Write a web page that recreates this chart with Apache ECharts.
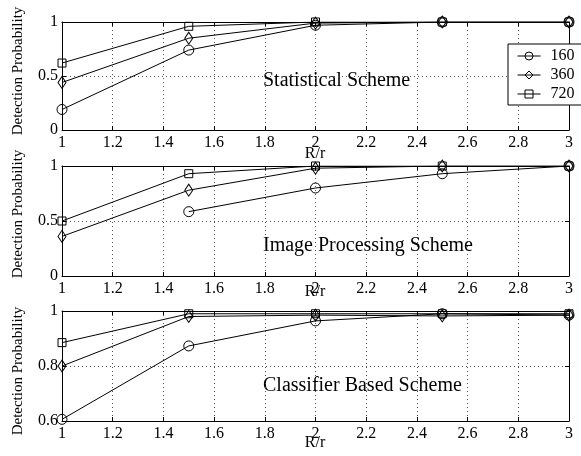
<!DOCTYPE html>
<html>
<head>
    <meta charset="UTF-8">
    <title>Detection Probability vs R/r</title>
    <script src="https://cdn.jsdelivr.net/npm/echarts@6/dist/echarts.min.js"></script>
    <style>
        html, body { margin: 0; padding: 0; background: #fff; }
        #chart { width: 581px; height: 456px; }
    </style>
</head>
<body>
<div id="chart"></div>
<script>
    // R/r values on the x axis
    var ratios = [1, 1.5, 2, 2.5, 3];
    var seriesNames = ['160', '360', '720'];
    var panelTitles = ['Statistical Scheme', 'Image Processing Scheme', 'Classifier Based Scheme'];

    // Statistical Scheme
    var stat160 = [0.19, 0.74, 0.97, 1.0, 1.0];
    var stat360 = [0.44, 0.85, 0.99, 1.0, 1.0];
    var stat720 = [0.62, 0.96, 1.0, 1.0, 1.0];

    // Image Processing Scheme (160 has no point at R/r = 1)
    var img160 = [null, 0.585, 0.80, 0.93, 1.0];
    var img360 = [0.36, 0.78, 0.98, 1.0, 1.0];
    var img720 = [0.50, 0.93, 1.0, 1.0, 1.0];

    // Classifier Based Scheme
    var cls160 = [0.606, 0.873, 0.964, 0.99, 0.985];
    var cls360 = [0.80, 0.98, 0.985, 0.982, 0.985];
    var cls720 = [0.885, 0.99, 0.99, 0.99, 0.99];

    var panels = [[stat160, stat360, stat720], [img160, img360, img720], [cls160, cls360, cls720]];
    var yRanges = [[0, 1, 0.5], [0, 1, 0.5], [0.6, 1, 0.2]];

    var font = "'Liberation Serif', 'DejaVu Serif', serif";
    var grids = [
        {left: 62, right: 12, top: 22, height: 108},
        {left: 62, right: 12, top: 166, height: 110},
        {left: 62, right: 12, top: 311, height: 110}
    ];
    var xNameCenters = [154, 292, 443];
    var yLabelCenters = [71, 214, 371];
    var titleCenters = [80, 245, 385];
    var symbols = [
        {symbol: 'circle', size: 10},
        {symbol: 'diamond', size: [8, 12]},
        {symbol: 'rect', size: 8}
    ];

    var chart = echarts.init(document.getElementById('chart'), null, {renderer: 'canvas'});

    var dotted = {show: true, lineStyle: {type: [1, 3], color: '#555', width: 1}};
    var xAxes = [], yAxes = [], series = [], graphics = [];

    grids.forEach(function (g, p) {
        xAxes.push({
            type: 'value', gridIndex: p, min: 1, max: 3, interval: 0.2, position: 'bottom',
            axisLine: {show: true, onZero: false, lineStyle: {color: '#000', width: 1}},
            axisTick: {show: true, inside: true, length: 4, lineStyle: {color: '#000'}},
            axisLabel: {fontFamily: font, fontSize: 16, color: '#000', margin: 5},
            splitLine: dotted
        });
        xAxes.push({
            type: 'value', gridIndex: p, min: 1, max: 3, interval: 0.2, position: 'top',
            axisLine: {show: true, onZero: false, lineStyle: {color: '#000', width: 1}},
            axisTick: {show: true, inside: true, length: 4, lineStyle: {color: '#000'}},
            axisLabel: {show: false}, splitLine: {show: false}
        });
        var r = yRanges[p];
        yAxes.push({
            type: 'value', gridIndex: p, min: r[0], max: r[1], interval: r[2], position: 'left',
            axisLine: {show: true, onZero: false, lineStyle: {color: '#000', width: 1}},
            axisTick: {show: true, inside: true, length: 4, lineStyle: {color: '#000'}},
            axisLabel: {fontFamily: font, fontSize: 16, color: '#000', margin: 4},
            splitLine: dotted
        });
        yAxes.push({
            type: 'value', gridIndex: p, min: r[0], max: r[1], interval: r[2], position: 'right',
            axisLine: {show: true, onZero: false, lineStyle: {color: '#000', width: 1}},
            axisTick: {show: true, inside: true, length: 4, lineStyle: {color: '#000'}},
            axisLabel: {show: false}, splitLine: {show: false}
        });

        panels[p].forEach(function (vals, k) {
            series.push({
                name: seriesNames[k],
                type: 'line',
                xAxisIndex: p * 2,
                yAxisIndex: p * 2,
                data: ratios.map(function (x, i) { return [x, vals[i]]; }),
                symbol: symbols[k].symbol,
                symbolSize: symbols[k].size,
                showAllSymbol: true,
                connectNulls: false,
                lineStyle: {color: '#000', width: 1},
                itemStyle: {color: 'rgba(255,255,255,0)', borderColor: '#000', borderWidth: 1},
                emphasis: {disabled: true},
                animation: false
            });
        });

        graphics.push({
            type: 'text', left: 263, top: titleCenters[p] - 9,
            style: {text: panelTitles[p], font: '20px ' + font, fill: '#000'}
        });
        graphics.push({
            type: 'text', x: 18, y: yLabelCenters[p], rotation: Math.PI / 2,
            style: {text: 'Detection Probability', font: '15px ' + font, fill: '#000',
                align: 'center', verticalAlign: 'middle'}
        });
        graphics.push({
            type: 'text', x: 315, y: xNameCenters[p],
            style: {text: 'R/r', font: '16px ' + font, fill: '#000',
                align: 'center', verticalAlign: 'middle'}
        });
    });

    chart.setOption({
        backgroundColor: '#fff',
        animation: false,
        grid: grids,
        xAxis: xAxes,
        yAxis: yAxes,
        legend: {
            data: seriesNames,
            orient: 'vertical',
            left: 508, top: 44,
            backgroundColor: '#fff',
            borderColor: '#000', borderWidth: 1, borderRadius: 0,
            padding: [4, 14, 3, 9],
            itemWidth: 23, itemHeight: 10, itemGap: 3,
            itemStyle: {color: 'rgba(255,255,255,0)', borderColor: '#000', borderWidth: 1},
            lineStyle: {color: '#000', width: 1},
            textStyle: {fontFamily: font, fontSize: 16, color: '#000', padding: [0, 0, 0, 5]}
        },
        graphic: graphics,
        series: series
    });
</script>
</body>
</html>
